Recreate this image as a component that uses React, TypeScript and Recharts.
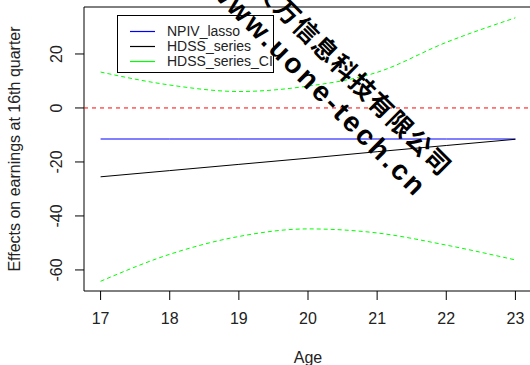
import React from "react";
import {
  LineChart,
  Line,
  XAxis,
  YAxis,
  Legend,
  ReferenceLine,
  ReferenceArea
} from "recharts";

const ages = [17, 18, 19, 20, 21, 22, 23];
const npivLasso = [-11.5, -11.5, -11.5, -11.5, -11.5, -11.5, -11.5];
const hdssSeries = [-25.5, -23.2, -20.9, -18.6, -16.2, -13.9, -11.6];
const ciUpper = [13.3, 8.5, 6.1, 8.1, 13.2, 24.3, 33.4];
const ciLower = [-64.2, -54.2, -47.6, -44.8, -46.3, -50.8, -56.3];

const xTicks = [17, 18, 19, 20, 21, 22, 23];
const yTicks = [-60, -40, -20, 0, 20];

const legendItems = [
  { name: "NPIV_lasso", color: "#0000ff" },
  { name: "HDSS_series", color: "#000000" },
  { name: "HDSS_series_CI", color: "#00ff00" }
];

const data = ages.map((age, i) => ({
  age,
  npiv: npivLasso[i],
  hdss: hdssSeries[i],
  upper: ciUpper[i],
  lower: ciLower[i]
}));

const font = "'Liberation Sans', Arial, sans-serif";

const YTick = (props: any) => {
  const { x, y, payload } = props;
  const bx = x - 13;
  return (
    <text
      x={bx}
      y={y}
      transform={`rotate(-90 ${bx} ${y})`}
      textAnchor="middle"
      fontSize={16}
      fontFamily={font}
      fill="#222"
    >
      {payload.value}
    </text>
  );
};

const LegendBox = () => (
  <div
    style={{
      width: 157,
      height: 58,
      border: "1px solid #000",
      background: "#fff",
      fontFamily: font,
      fontSize: 14,
      color: "#222",
      boxSizing: "border-box",
      paddingTop: 8
    }}
  >
    {legendItems.map((it) => (
      <div
        key={it.name}
        style={{ display: "flex", alignItems: "center", height: 15, lineHeight: "15px" }}
      >
        <svg width={25} height={3} style={{ marginLeft: 12, marginRight: 12, display: "block" }}>
          <line x1={0} y1={1.5} x2={25} y2={1.5} stroke={it.color} strokeWidth={1.2} />
        </svg>
        <span>{it.name}</span>
      </div>
    ))}
  </div>
);

export default function App() {
  return (
    <div style={{ position: "absolute", left: 0, top: 0, width: 530, height: 365, overflow: "hidden", background: "#fff" }}>
      <LineChart
        width={532}
        height={365}
        data={data}
        margin={{ top: 7, right: 0, left: 0, bottom: 44 }}
      >
        <XAxis
          dataKey="age"
          type="number"
          domain={[16.76, 23.24]}
          ticks={xTicks}
          axisLine={false}
          tickSize={9}
          tickMargin={13}
          height={30}
          tickLine={{ stroke: "#000" }}
          tick={{ fontSize: 16, fontFamily: font, fill: "#222" }}
          label={{
            value: "Age",
            position: "bottom",
            offset: 31,
            style: { fontSize: 16, fontFamily: font, fill: "#222" }
          }}
        />
        <YAxis
          type="number"
          domain={[-67.8, 37.4]}
          ticks={yTicks}
          axisLine={false}
          tickSize={9}
          tickMargin={0}
          width={84}
          tickLine={{ stroke: "#000" }}
          tick={<YTick />}
          label={{
            value: "Effects on earnings at 16th quarter",
            angle: -90,
            position: "insideLeft",
            offset: 14,
            style: { fontSize: 16, fontFamily: font, fill: "#222", textAnchor: "middle" }
          }}
        />
        <ReferenceArea
          x1={16.76}
          x2={23.24}
          y1={-67.8}
          y2={37.4}
          fill="none"
          fillOpacity={0}
          stroke="#000"
          strokeOpacity={1}
          strokeWidth={1}
        />
        <ReferenceLine y={0} stroke="#ff0000" strokeDasharray="4 4" />
        <Line
          dataKey="npiv"
          stroke="#0000ff"
          strokeWidth={1}
          dot={false}
          isAnimationActive={false}
          type="linear"
        />
        <Line
          dataKey="hdss"
          stroke="#000000"
          strokeWidth={1}
          dot={false}
          isAnimationActive={false}
          type="linear"
        />
        <Line
          dataKey="upper"
          stroke="#00ff00"
          strokeWidth={1}
          strokeDasharray="4 3"
          dot={false}
          isAnimationActive={false}
          type="monotone"
        />
        <Line
          dataKey="lower"
          stroke="#00ff00"
          strokeWidth={1}
          strokeDasharray="4 3"
          dot={false}
          isAnimationActive={false}
          type="monotone"
        />
        <Legend
          layout="vertical"
          align="center"
          verticalAlign="middle"
          content={<LegendBox />}
          wrapperStyle={{ left: 117, top: 15, width: 157, height: 58 }}
        />
      </LineChart>
      <svg
        width={530}
        height={365}
        style={{ position: "absolute", left: 0, top: 0, pointerEvents: "none" }}
      >
        <text
          x={416}
          y={199}
          transform="rotate(45 416 199)"
          textAnchor="end"
          fontSize={28}
          fontWeight={700}
          letterSpacing={3}
          fontFamily={font}
          fill="#000"
        >
          www.uone-tech.cn
        </text>
        <text
          x={441}
          y={178}
          transform="rotate(45 441 178)"
          textAnchor="end"
          fontSize={25}
          fontWeight={700}
          letterSpacing={1.5}
          fontFamily="'Noto Sans CJK SC', sans-serif"
          fill="#000"
        >
          友万信息科技有限公司
        </text>
      </svg>
    </div>
  );
}
